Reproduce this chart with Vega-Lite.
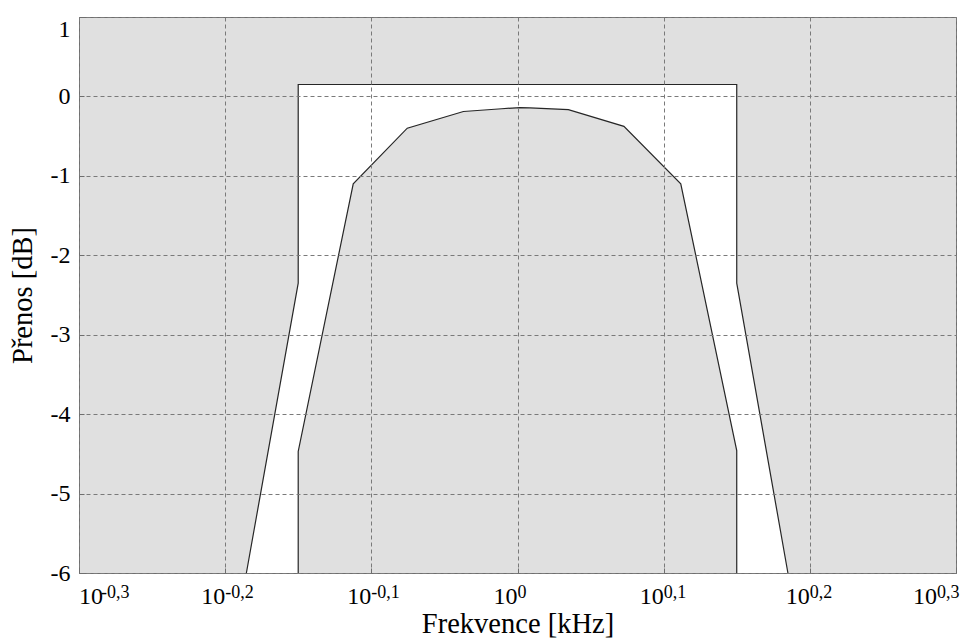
{
  "$schema": "https://vega.github.io/schema/vega-lite/v6.json",
  "width": 877,
  "height": 556,
  "autosize": {"type": "none"},
  "padding": {"left": 79, "top": 17, "right": 6, "bottom": 68},
  "background": "white",
  "config": {
    "view": {"fill": "#e0e0e0", "stroke": "#6e6e6e", "strokeWidth": 1},
    "font": "Liberation Serif"
  },
  "datasets": {
    "band": [
      {"i": 0, "f": 0.6524, "hi": -6, "lo": -6},
      {"i": 1, "f": 0.7079, "hi": -2.35, "lo": -6},
      {"i": 2, "f": 0.7079, "hi": 0.15, "lo": -4.47},
      {"i": 3, "f": 0.772, "hi": 0.15, "lo": -1.1},
      {"i": 4, "f": 0.8406, "hi": 0.15, "lo": -0.4},
      {"i": 5, "f": 0.9183, "hi": 0.15, "lo": -0.19},
      {"i": 6, "f": 0.9754, "hi": 0.15, "lo": -0.155},
      {"i": 7, "f": 1.004, "hi": 0.15, "lo": -0.14},
      {"i": 8, "f": 1.0198, "hi": 0.15, "lo": -0.145},
      {"i": 9, "f": 1.0834, "hi": 0.15, "lo": -0.167},
      {"i": 10, "f": 1.1825, "hi": 0.15, "lo": -0.377},
      {"i": 11, "f": 1.2933, "hi": 0.15, "lo": -1.1},
      {"i": 12, "f": 1.4125, "hi": 0.15, "lo": -4.46},
      {"i": 13, "f": 1.4125, "hi": -2.35, "lo": -6},
      {"i": 14, "f": 1.5311, "hi": -6, "lo": -6}
    ],
    "masks": [
      {"mask": "upper", "i": 0, "f": 0.6524, "db": -6},
      {"mask": "upper", "i": 1, "f": 0.7079, "db": -2.35},
      {"mask": "upper", "i": 2, "f": 0.7079, "db": 0.15},
      {"mask": "upper", "i": 3, "f": 1.4125, "db": 0.15},
      {"mask": "upper", "i": 4, "f": 1.4125, "db": -2.35},
      {"mask": "upper", "i": 5, "f": 1.5311, "db": -6},
      {"mask": "lower", "i": 0, "f": 0.7079, "db": -6},
      {"mask": "lower", "i": 1, "f": 0.7079, "db": -4.47},
      {"mask": "lower", "i": 2, "f": 0.772, "db": -1.1},
      {"mask": "lower", "i": 3, "f": 0.8406, "db": -0.4},
      {"mask": "lower", "i": 4, "f": 0.9183, "db": -0.19},
      {"mask": "lower", "i": 5, "f": 0.9754, "db": -0.155},
      {"mask": "lower", "i": 6, "f": 1.004, "db": -0.14},
      {"mask": "lower", "i": 7, "f": 1.0198, "db": -0.145},
      {"mask": "lower", "i": 8, "f": 1.0834, "db": -0.167},
      {"mask": "lower", "i": 9, "f": 1.1825, "db": -0.377},
      {"mask": "lower", "i": 10, "f": 1.2933, "db": -1.1},
      {"mask": "lower", "i": 11, "f": 1.4125, "db": -4.46},
      {"mask": "lower", "i": 12, "f": 1.4125, "db": -6}
    ],
    "ticks": [
      {"f": 0.501187, "exp": "-0,3"},
      {"f": 0.630957, "exp": "-0,2"},
      {"f": 0.794328, "exp": "-0,1"},
      {"f": 1, "exp": "0"},
      {"f": 1.258925, "exp": "0,1"},
      {"f": 1.584893, "exp": "0,2"},
      {"f": 1.995262, "exp": "0,3"}
    ]
  },
  "encoding": {
    "x": {
      "field": "f", "type": "quantitative",
      "scale": {"type": "log", "domain": [0.501187, 1.995262], "nice": false},
      "axis": {
        "values": [0.501187, 0.630957, 0.794328, 1, 1.258925, 1.584893, 1.995262],
        "labels": false, "domain": false,
        "ticks": true, "tickSize": -5, "tickColor": "#6e6e6e",
        "grid": true, "gridColor": "#7a7a7a", "gridDash": [4, 3], "gridOpacity": 1,
        "zindex": 1,
        "title": "Frekvence [kHz]", "titleFont": "Liberation Serif", "titleFontSize": 28.5,
        "titleFontWeight": "normal", "titleColor": "black", "titlePadding": 36
      }
    }
  },
  "layer": [
    {
      "data": {"name": "band"},
      "mark": {"type": "area", "orient": "vertical", "fill": "#ffffff", "strokeWidth": 0},
      "encoding": {
        "y": {
          "field": "hi", "type": "quantitative",
          "scale": {"domain": [-6, 1], "nice": false, "zero": false},
          "axis": {
            "values": [-6, -5, -4, -3, -2, -1, 0, 1],
            "labelExpr": "'' + datum.value",
            "domain": false, "ticks": true, "tickSize": -5, "tickColor": "#6e6e6e",
            "labelFont": "Liberation Serif", "labelFontSize": 24, "labelColor": "black",
            "labelPadding": 14, "labelFlush": false,
            "labelBaseline": {"condition": {"test": "datum.value == 1", "value": "top"}, "value": "middle"},
            "grid": true, "gridColor": "#7a7a7a", "gridDash": [4, 3], "gridOpacity": 1,
            "zindex": 1,
            "title": "Přenos [dB]", "titleFont": "Liberation Serif", "titleFontSize": 28.5,
            "titleFontWeight": "normal", "titleColor": "black", "titlePadding": 13
          }
        },
        "y2": {"field": "lo"}
      }
    },
    {
      "data": {"name": "masks"},
      "mark": {"type": "line", "color": "#262626", "strokeWidth": 1.2},
      "encoding": {
        "y": {"field": "db", "type": "quantitative"},
        "detail": {"field": "mask"},
        "order": {"field": "i", "type": "quantitative"}
      }
    },
    {
      "data": {"name": "ticks"},
      "transform": [{"filter": "datum.f > 0.55 && datum.f < 1.9"}],
      "mark": {"type": "text", "align": "right", "baseline": "alphabetic", "dy": 31, "fontSize": 24, "font": "Liberation Serif", "color": "black", "text": "10"},
      "encoding": {"y": {"datum": -6}}
    },
    {
      "data": {"name": "ticks"},
      "transform": [{"filter": "datum.f > 0.55 && datum.f < 1.9"}],
      "mark": {"type": "text", "align": "left", "baseline": "alphabetic", "dy": 25, "fontSize": 18, "font": "Liberation Serif", "color": "black"},
      "encoding": {"y": {"datum": -6}, "text": {"field": "exp"}}
    },
    {
      "data": {"name": "ticks"},
      "transform": [{"filter": "datum.f < 0.55"}],
      "mark": {"type": "text", "align": "left", "baseline": "alphabetic", "dy": 31, "fontSize": 24, "font": "Liberation Serif", "color": "black", "text": "10"},
      "encoding": {"y": {"datum": -6}}
    },
    {
      "data": {"name": "ticks"},
      "transform": [{"filter": "datum.f < 0.55"}],
      "mark": {"type": "text", "align": "left", "baseline": "alphabetic", "dx": 22, "dy": 25, "fontSize": 18, "font": "Liberation Serif", "color": "black"},
      "encoding": {"y": {"datum": -6}, "text": {"field": "exp"}}
    },
    {
      "data": {"name": "ticks"},
      "transform": [{"filter": "datum.f > 1.9"}],
      "mark": {"type": "text", "align": "right", "baseline": "alphabetic", "dx": -19, "dy": 31, "fontSize": 24, "font": "Liberation Serif", "color": "black", "text": "10"},
      "encoding": {"y": {"datum": -6}}
    },
    {
      "data": {"name": "ticks"},
      "transform": [{"filter": "datum.f > 1.9"}],
      "mark": {"type": "text", "align": "right", "baseline": "alphabetic", "dx": 3.5, "dy": 25, "fontSize": 18, "font": "Liberation Serif", "color": "black"},
      "encoding": {"y": {"datum": -6}, "text": {"field": "exp"}}
    }
  ]
}
